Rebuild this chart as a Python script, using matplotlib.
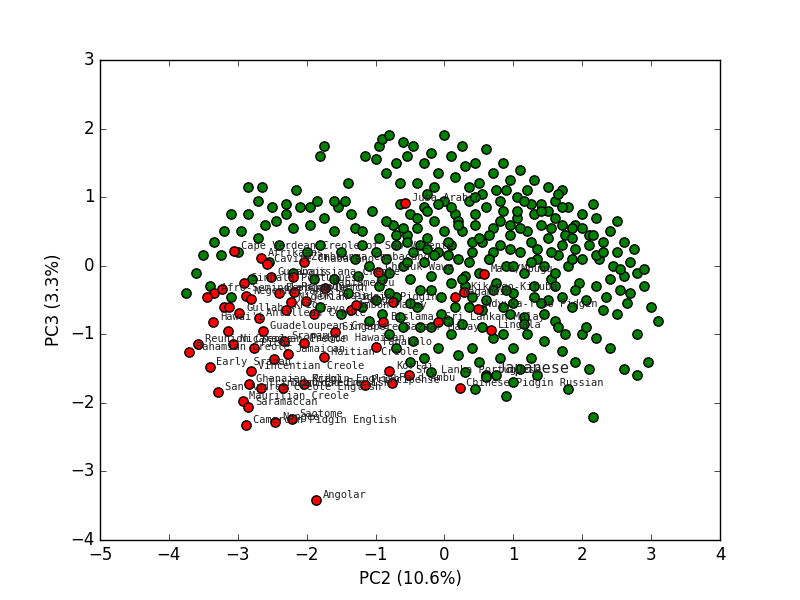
import matplotlib
matplotlib.use("Agg")
import matplotlib.pyplot as plt

# -----------------------------
# Data
# -----------------------------
green_x = [-3.75, -3.6, -3.5, -3.35, -3.2, -3.25, -3.1, -2.95, -2.85, -2.7, -2.85, -2.65, -2.5, -2.6, -2.45,
           -2.3, -2.3, -2.2, -2.1, -2.15, -1.95, -1.95, -1.85, -1.8, -1.75, -1.75, -1.6, -1.55, -1.4, -1.45,
           -1.3, -1.2, -1.15, -1.0, -0.95, -0.9, -0.85, -0.8, -0.7, -0.6, -0.65, -0.55, -0.45, -0.4, -0.3,
           -0.2, -0.1, 0.0, 0.1, 0.15, 0.25, 0.3, 0.35, 0.45, 0.5, 0.6, 0.7, 0.75, 0.85, 0.95,
           1.05, 1.1, 1.2, 1.3, 1.4, 1.5, 1.6, 1.7, 1.8, 1.9, 2.0, 2.1, 2.2, 2.3, 2.4,
           2.5, 2.6, 2.7, 2.8, 2.9, 3.0, 3.1, 2.95, 2.8, 2.65, 2.55, 2.4, 2.3, 2.2, 2.1,
           2.15, 1.9, 1.8, 1.7, 1.6, 1.5, 1.45, 1.35, 1.2, 1.1, 1.0, 0.95, 0.9, 0.8, 0.7,
           0.6, 0.5, 0.4, 0.3, 0.2, 0.1, -0.1, -0.2, -0.3, -0.45, -0.5, -0.6, -0.7, -0.8, -0.9,
           -1.0, -1.1, -1.2,
           -1.5, -1.3, -1.2, -1.1, -1.0, -0.95, -0.85, -0.8, -0.75, -0.7, -0.65, -0.6, -0.55, -0.5, -0.5,
           -0.45, -0.4, -0.35, -0.3, -0.3, -0.25, -0.2, -0.15, -0.1, -0.05, 0.0, 0.0, 0.05, 0.1, 0.15,
           0.15, 0.2, 0.25, 0.3, 0.35, 0.4, 0.45, 0.5, 0.55, 0.6, 0.6, 0.65, 0.7, 0.75, 0.8,
           0.85, 0.9, 0.95, 1.0, 1.05, 1.1, 1.15, 1.2, 1.25, 1.3, 1.35, 1.4, 1.45, 1.5, 1.55,
           1.6, 1.65, 1.7, 1.75, 1.8, 1.85, 1.9, 1.95, 2.0, 2.05, 2.1, 2.2, 2.25, 2.35, 2.45,
           2.5, 2.6, 2.7, -1.6, -1.4, -1.25, -0.95, -0.7, -0.4, -0.2, 0.05, 0.35, 0.55, 0.85, 1.15,
           1.4, 1.65, 2.4, 2.6, 2.8, 2.0, 1.25, 0.75, 0.45, 1.0, -1.6, -1.35, -1.05, -0.85, -0.25,
           0.55, 0.9, 1.3, 1.7, 2.15, 2.5, 2.75, 2.9, -1.8, -2.0, -2.4, -2.7, -3.0, -2.55, -2.2,
           -1.9, -3.4, -3.1, -2.8, -1.5, -1.8,
           -0.35, -0.15, 0.2, 0.4, 0.7, 0.95, 1.25, 1.55, 1.85, 0.05, 0.3, 0.65, 1.0, 1.35, 1.7,
           -0.6, -0.25, 0.1, 0.45, 0.8, 1.15, 1.5, 1.85, 2.2, 2.55, -0.9, -0.55, 0.25, 0.9, 1.6,
           # extra points in the dense core
           -0.7, -0.4, -0.1, 0.2, 0.5, 0.8, 1.1, 1.4, 1.7, 2.0, -0.55, -0.25, 0.05, 0.35, 0.65,
           0.95, 1.25, 1.55, 1.85, 2.15, -0.8, -0.5, -0.2, 0.1, 0.4, 0.7, 1.0, 1.3, 1.6, 1.9,
           -0.65, -0.35, -0.05, 0.25, 0.55, 0.85, 1.15, 1.45, 1.75, 2.05, -0.15, 0.45, 1.05, 1.65, 2.3]
green_y = [-0.4, -0.1, 0.15, 0.35, 0.5, 0.15, 0.75, 0.5, 0.75, 0.95, 1.15, 1.15, 0.85, 0.6, 0.65,
           0.75, 0.9, 0.55, 0.85, 1.1, 0.85, 0.6, 0.95, 1.6, 1.75, 0.7, 0.5, 0.85, 1.2, 0.95,
           0.55, 0.5, 1.6, 1.55, 1.75, 1.85, 1.35, 1.9, 1.5, 1.8, 1.2, 1.6, 1.75, 1.2, 1.5,
           1.65, 1.35, 1.9, 1.6, 1.3, 1.75, 1.45, 1.15, 1.5, 1.2, 1.7, 1.35, 1.1, 1.5, 1.25,
           1.0, 1.4, 1.1, 1.25, 0.9, 1.15, 0.95, 1.1, 0.85, 0.6, 0.75, 0.45, 0.7, 0.35, 0.5,
           0.2, 0.35, 0.05, -0.1, -0.3, -0.6, -0.8, -1.4, -1.0, -0.55, -0.35, -0.2, -0.65, -1.05, -1.5,
           -2.2, -1.4, -1.8, -1.25, -0.8, -0.5, -1.1, -1.6, -1.0, -1.5, -1.2, -0.7, -1.9, -1.35, -1.05,
           -1.6, -1.4, -1.2, -1.55, -1.3, -1.0, -1.2, -1.55, -1.35, -1.1, -1.4, -0.9, -1.2, -1.0, -0.7,
           -0.5, -0.8, -0.6,
           0.2, 0.1, 0.3, 0.0, 0.2, 0.4, 0.1, -0.1, 0.6, 0.3, 0.9, 0.0, 0.45, 0.75, -0.2,
           0.2, 0.55, -0.35, 0.85, 0.05, 0.4, -0.15, 0.65, 0.2, -0.45, 0.5, 0.95, -0.05, 0.3, 0.75,
           -0.6, 0.1, 0.5, -0.3, 0.95, 0.2, 0.6, -0.1, 0.35, 0.85, -0.5, 0.1, 0.55, -0.25, 0.3,
           0.8, 0.0, 0.45, -0.4, 0.7, 0.2, -0.1, 0.5, 0.9, -0.3, 0.25, 0.6, 0.0, 0.4, -0.2,
           0.7, 0.15, -0.45, 0.45, 0.0, -0.6, 0.25, -0.25, 0.1, -0.5, 0.3, -0.3, 0.1, -0.45, 0.0,
           -0.7, -0.15, -0.4, -0.2, -0.4, -0.15, -0.3, -0.45, -0.6, -0.9, -0.8, -0.6, -0.9, -0.6, -0.75,
           -0.55, -0.9, -1.2, -1.5, -1.6, -1.0, -1.35, -1.6, -1.8, -1.7, 0.95, 0.75, 0.8, 0.65, 1.05,
           1.05, 1.1, 0.75, 0.85, 0.9, 0.65, 0.25, -0.05, 0.3, 0.2, 0.3, 0.4, 0.2, 0.05, -0.1,
           -0.2, -0.3, -0.45, -0.2, -0.7, -0.6,
           0.3, 0.15, 0.65, 0.35, 0.2, 0.6, 0.35, 0.55, 0.4, 0.15, -0.15, 0.45, 0.0, 0.1, 0.3,
           0.55, 0.8, 0.85, 0.75, 0.65, 0.95, 0.8, 0.55, 0.15, -0.05, -0.2, 0.35, -0.2, -0.35, -0.1,
           0.45, 0.7, 0.9, 0.6, 0.4, 0.95, 0.55, 0.8, 0.6, 0.55, 0.05, 0.25, 0.35, 0.05, 0.1,
           0.25, 0.05, 0.2, 0.1, 0.45, -0.4, -0.55, -0.35, -0.25, -0.45, -0.35, -0.55, -0.45, -0.3, -0.35,
           -0.75, -0.9, -0.7, -0.85, -0.65, -1.0, -0.85, -0.7, -1.0, -0.9, 1.15, 1.0, 0.8, 1.05, 0.2]

red_x = [-3.06, -2.66, -2.58, -2.04, -2.52, -2.20, -2.91, -3.35, -3.23, -3.44, -2.88, -2.81, -2.40, -2.18,
         -1.73, -3.20, -3.13, -2.98, -2.30, -2.23, -2.01, -1.89, -1.35, -1.28, -0.96, -0.74, -3.36, -2.69,
         -3.14, -2.63, -1.59, -0.89, -3.58, -3.71, -3.07, -2.77, -2.33, -2.04, -1.75, -2.27, -2.47, -1.00,
         -3.41, -2.81, -0.80, -0.51, -0.76, -1.16, -2.04, -2.34, -2.84, -2.66, -3.28, -2.93, -2.85, -2.88,
         -2.46, -2.21, 0.22, -1.86, 0.16, 0.49, 0.57, -0.09, -0.57, 0.68, 0.28]
red_y = [0.21, 0.11, 0.02, 0.05, -0.17, -0.17, -0.25, -0.40, -0.34, -0.46, -0.44, -0.49, -0.40, -0.38,
         -0.33, -0.60, -0.60, -0.69, -0.65, -0.53, -0.52, -0.71, -0.65, -0.57, -0.09, -0.53, -0.82, -0.76,
         -0.95, -0.95, -0.97, -0.82, -1.14, -1.26, -1.14, -1.20, -1.10, -1.13, -1.33, -1.29, -1.36, -1.19,
         -1.48, -1.54, -1.54, -1.59, -1.71, -1.74, -1.72, -1.78, -1.72, -1.78, -1.84, -1.97, -2.06, -2.32,
         -2.28, -2.24, -1.78, -3.42, -0.46, -0.63, -0.12, -0.82, 0.91, -0.94, -0.38]
red_labels = ["Cape Verdean Creole of Sao Vicente", "Afrikaans", "Cavite Chabacano", "Zamboanga Chabacano",
              "Guyanais", "Louisiana Creole", "Sinhala Portuguese", "Afro-Seminole Creole", "", "",
              "Negerhollands", "", "Berbice Dutch", "Palenquero", "Papiamentu", "", "", "Gullah", "Krio",
              "Nigerian Pidgin", "Tok Pisin", "Tayo", "Ambon Malay", "Sango", "Chinuk Wawa", "Pidgin",
              "Hawai'i", "Antillean Creole", "", "Guadeloupean Creole", "Singapore Bazaar Malay", "Bislama",
              "Reunion Creole", "Bahamian Creole", "Nicaraguan Creole", "Pichi", "Sranan", "Pidgin Hawaiian",
              "Haitian Creole", "Jamaican", "", "Fanakalo", "Early Sranan", "Vincentian Creole", "Korlai",
              "Sri Lanka Portuguese", "Fa d'Ambu", "Principense", "Kriol", "Trinidad English",
              "Ghanaian Pidgin English", "Trinidad Creole", "San Andres Creole English", "Mauritian Creole",
              "Saramaccan", "Cameroon Pidgin English", "Nengee", "Saotome", "Chinese Pidgin Russian", "Angolar",
              "Nagamese", "Ndyuka-Trio Pidgin", "Ma'a/Mbugu", "Sri Lankan Malay", "Juba Arabic", "Lingala",
              "Kikongo-Kituba"]

# one non-creole reference language, labelled larger
ref_x = [0.6]
ref_y = [-1.62]
ref_label = ["Japanese"]

# -----------------------------
# Plot
# -----------------------------
plt.style.use("classic")
fig = plt.figure(figsize=(8, 6), dpi=100)
ax = fig.add_subplot(111)

ax.scatter(green_x, green_y, s=45, c="g", edgecolors="k", linewidths=1, zorder=2)
ax.scatter(ref_x, ref_y, s=45, c="g", edgecolors="k", linewidths=1, zorder=2)
ax.scatter(red_x, red_y, s=45, c="r", edgecolors="k", linewidths=1, zorder=3)

for x, y, lab in zip(red_x, red_y, red_labels):
    if lab:
        ax.text(x + 0.1, y + 0.03, lab, fontsize=7.5, family="DejaVu Sans Mono",
                color="#222222", zorder=4)
for x, y, lab in zip(ref_x, ref_y, ref_label):
    ax.text(x + 0.15, y + 0.05, lab, fontsize=11, family="DejaVu Sans Mono", color="#222222", zorder=4)

ax.set_xlim(-5, 4)
ax.set_ylim(-4, 3)
ax.set_xlabel("PC2 (10.6%)")
ax.set_ylabel("PC3 (3.3%)")

fig.savefig("out.png", dpi=100, facecolor="white")
